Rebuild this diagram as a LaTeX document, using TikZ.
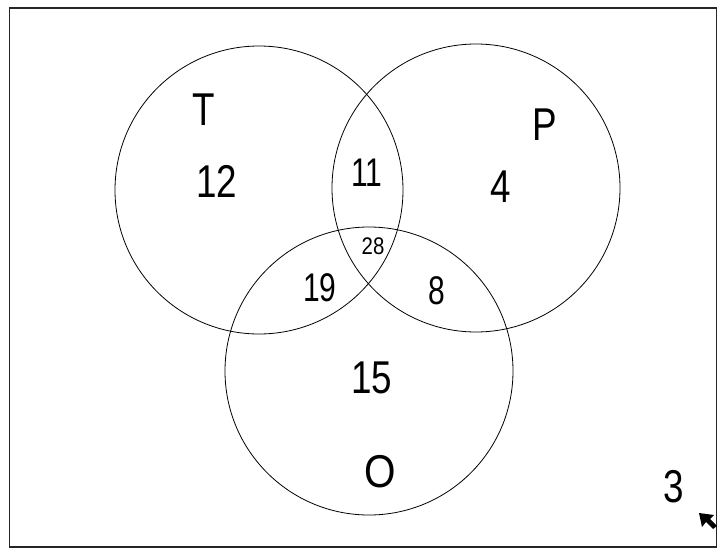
\documentclass[tikz,border=0pt]{standalone}
\usepackage{fontspec}
\setmainfont{Liberation Sans}
\begin{document}
\begin{tikzpicture}[x=1pt,y=-1pt,
  setc/.style={circle,draw,line width=0.8pt,minimum size=288pt,inner sep=0pt},
  big/.style={font=\fontsize{46}{46}\selectfont,inner sep=0pt,xscale=0.8},
  mid/.style={font=\fontsize{40}{40}\selectfont,inner sep=0pt,xscale=0.75},
  small/.style={font=\fontsize{24}{24}\selectfont,inner sep=0pt,xscale=0.85}]
\useasboundingbox (0,0) rectangle (718,549);
\draw[line width=1.3pt,black!85] (9.5,8) rectangle (716.5,547);
\node[setc] (T) at (259,190) {};
\node[setc] (P) at (476,188) {};
\node[setc] (O) at (369,371) {};
\node[big] (lT) at (204,110) {T};
\node[big] (lP) at (545,125) {P};
\node[big,xscale=1.1] (lO) at (380,472) {O};
\node[big] (n12) at (217,181) {12};
\node[mid] (n11) at (367,173) {11};
\node[big] (n4) at (501,187) {4};
\node[small] (n28) at (373,246) {28};
\node[mid] (n19) at (320,288) {19};
\node[mid] (n8) at (437,291) {8};
\node[big] (n15) at (372,378) {15};
\node[big] (n3) at (674,487) {3};
\fill (699,513) -- (714,515) -- (710,519) -- (717,526) -- (713,529) -- (706,522) -- (702,527) -- cycle;
\end{tikzpicture}
\end{document}
